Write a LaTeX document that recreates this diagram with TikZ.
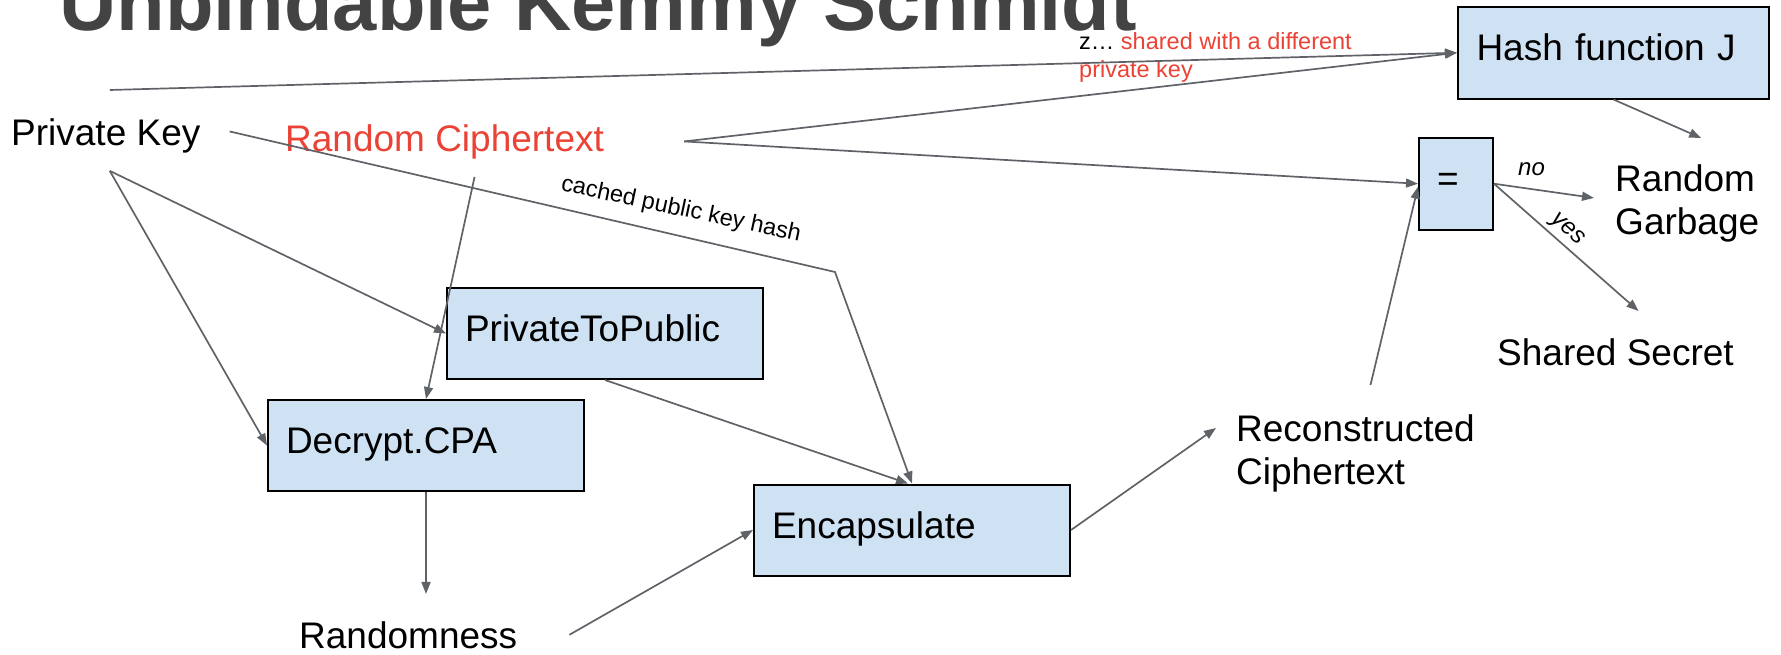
\documentclass[tikz,border=0pt]{standalone}
\usepackage{fontspec}
\setmainfont{Liberation Sans}
\usetikzlibrary{arrows.meta,calc}
\definecolor{linegray}{HTML}{5F6368}
\definecolor{boxfill}{HTML}{CFE2F3}
\definecolor{alertred}{HTML}{EA4335}
\definecolor{titlegray}{HTML}{434343}
\begin{document}
\begin{tikzpicture}[x=1pt,y=-1pt,
  txt/.style={inner sep=0pt, font=\fontsize{37}{43}\selectfont, align=left},
  small/.style={inner sep=0pt, font=\fontsize{23.5}{28}\selectfont, align=left},
  box/.style={draw=black, line width=2pt, fill=boxfill, anchor=north west,
    inner ysep=0pt, inner xsep=18pt, text height=26pt, text depth=10pt,
    font=\fontsize{37}{43}\selectfont, align=left},
  conn/.style={draw=linegray, line width=1.7pt, -{Triangle[length=12pt,width=9pt]}}
]
\useasboundingbox (0,0) rectangle (1781,654);

% heading, cut by the top edge
\node[inner sep=0pt, anchor=base west, text=titlegray,
      font=\fontsize{79.5}{80}\selectfont\bfseries] (title) at (59,30) {Unbindable Kemmy Schmidt};

% processing boxes
\node[box, text width=280pt, minimum height=91pt] (p2p)  at (446,287)   {PrivateToPublic};
\node[box, text width=280pt, minimum height=91pt] (dec)  at (267,399)   {Decrypt.CPA};
\node[box, text width=280pt, minimum height=91pt] (enc)  at (753,483.5) {Encapsulate};
\node[box, text width=274pt, minimum height=91.5pt, inner xsep=18.5pt] (hash) at (1457,6) {Hash function J};
\node[box, text width=38pt, minimum height=91.5pt] (eq) at (1418,137) {=};

% plain text values
\node[txt, anchor=base west] (pk)  at (11,145)  {Private Key};
\node[txt, anchor=base west, text=alertred] (rc) at (285,151) {Random Ciphertext};
\node[txt, anchor=base west] (rnd) at (299,648) {Randomness};
\node[txt, anchor=north west] (recon) at (1236,414) {Reconstructed\\Ciphertext};
\node[txt, anchor=north west] (garb)  at (1615,164) {Random\\Garbage};
\node[txt, anchor=base west] (ss)  at (1497,365) {Shared Secret};

% small annotations (base of a two-line node is its last line)
\node[small, anchor=base west] (note) at (1079,77)
  {z\ldots{} \textcolor{alertred}{shared with a different}\\\textcolor{alertred}{private key}};
\node[small, rotate=-12] (cpkh) at (681,210) {cached public key hash};
\node[small, anchor=base west, font=\fontsize{24}{28}\selectfont\itshape] (no) at (1518,175) {no};
\node[small, rotate=-42, font=\fontsize{24}{28}\selectfont\itshape] (yes) at (1567,230) {yes};

\coordinate (bend) at (835,272);

% connectors
\draw[conn] ([shift={(4,-28)}]pk.north) -- (hash.west);
\draw[conn] ([xshift=80]rc.east) -- (hash.west);
\draw[conn] ([xshift=80]rc.east) -- (eq.west);
\draw[conn] (hash.south) -- ([shift={(14,-26)}]garb.north);
\draw[conn] (eq.east) -- ([shift={(-21,-5)}]garb.west);
\draw[conn] (eq.east) -- ([shift={(23,-27)}]ss.north);
\draw[conn] ([shift={(15,-29)}]recon.north) -- ([yshift=-3]eq.west);
\draw[conn] ([shift={(4,18)}]pk.south) -- (dec.west);
\draw[conn] ([shift={(4,18)}]pk.south) -- (p2p.west);
\draw[conn] ([shift={(29,-4)}]pk.east) -- (bend) -- (enc.north);
\draw[conn] ([shift={(30,18)}]rc.south) -- (dec.north);
\draw[conn] (p2p.south) -- ([xshift=-4]enc.north);
\draw[conn] (dec.south) -- ($(dec.south |- rnd.north)+(0,-27)$);
\draw[conn] ([xshift=52]rnd.east) -- (enc.west);
\draw[conn] (enc.east) -- ([shift={(-20,14)}]recon.north west);
\end{tikzpicture}
\end{document}
